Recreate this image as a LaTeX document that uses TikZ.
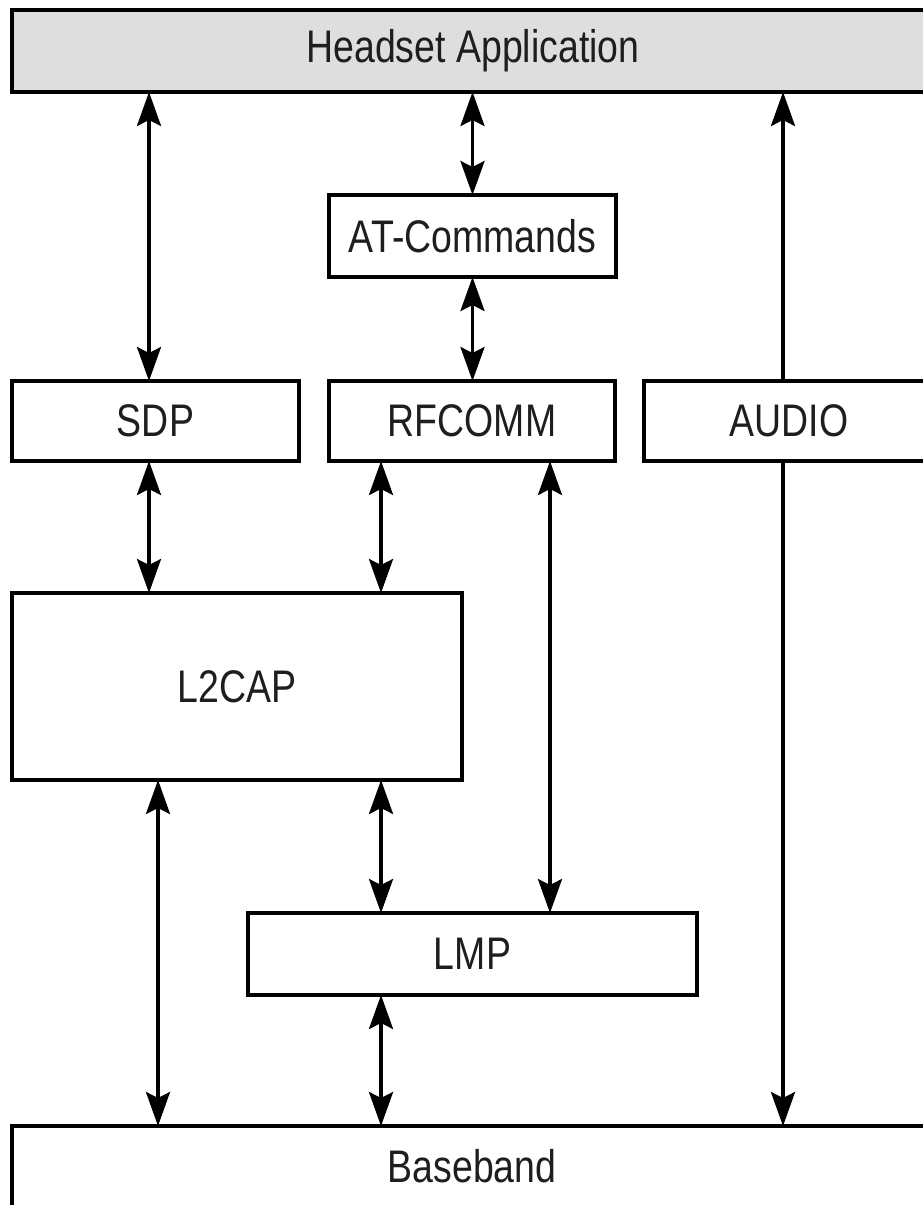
\documentclass[tikz,border=0pt]{standalone}
\usepackage{fontspec}
\setmainfont{Liberation Sans}[FakeStretch=0.82]
\usetikzlibrary{arrows.meta}
\definecolor{headgray}{RGB}{222,222,222}
\definecolor{txt}{RGB}{30,30,30}
\tikzset{
  layer/.style={draw=black, line width=2.6pt, fill=white, inner sep=0pt, outer sep=0pt,
    text=txt, font=\fontsize{26}{30}\selectfont, minimum height=1.6cm},
  conn/.style={line width=2pt, draw=black},
  >={Stealth[length=0.68cm,width=0.48cm,inset=0.12cm]}
}
\begin{document}
\begin{tikzpicture}[x=0.02cm,y=-0.02cm]
\useasboundingbox (0,0) rectangle (923,1205);
\fill[white] (0,0) rectangle (923,1205);
\clip (0,0) rectangle (923,1205);

% nodes
\node[layer, fill=headgray, minimum width=18.44cm, minimum height=1.64cm] (head) at (473,51) {Headset Application};
\node[layer, minimum width=5.74cm, minimum height=1.64cm] (at) at (472.5,236) {AT-Commands};
\node[layer, minimum width=5.74cm] (sdp) at (155.5,421) {SDP};
\node[layer, minimum width=5.72cm] (rf) at (472,421) {RFCOMM};
\node[layer, minimum width=5.8cm] (audio) at (789,421) {AUDIO};
\node[layer, minimum width=9.0cm, minimum height=3.74cm] (l2cap) at (237,686.5) {L2CAP};
\node[layer, minimum width=8.98cm, minimum height=1.64cm] (lmp) at (472.5,954) {LMP};
\node[layer, draw=none, fill=none, minimum width=18.4cm] (base) at (472,1166) {Baseband};
\draw[line width=2.6pt] ([yshift=-2cm]base.south west) -- (base.north west) -- ([xshift=2cm]base.north east);

% connectors
\draw[conn,<->] ([xshift=-0.13cm]sdp.north) -- ([xshift=-0.13cm]sdp.north |- head.south);
\draw[conn,<->] (at.north) -- (at.north |- head.south);
\draw[conn,<->] (at.south) -- (at.south |- rf.north);
\draw[conn,->] ([xshift=-0.12cm]audio.north) -- ([xshift=-0.12cm]audio.north |- head.south);
\draw[conn,->] ([xshift=-0.12cm]audio.south) -- ([xshift=-0.12cm]audio.south |- base.north);
\draw[conn,<->] ([xshift=-0.13cm]sdp.south) -- ([xshift=-0.13cm]sdp.south |- l2cap.north);
\draw[conn,<->] ([xshift=-1.82cm]rf.south) -- ([xshift=-1.82cm]rf.south |- l2cap.north);
\draw[conn,<->] ([xshift=1.56cm]rf.south) -- ([xshift=1.56cm]rf.south |- lmp.north);
\draw[conn,<->] ([xshift=-1.58cm]l2cap.south) -- ([xshift=-1.58cm]l2cap.south |- base.north);
\draw[conn,<->] ([xshift=-1.83cm]lmp.north) -- ([xshift=-1.83cm]lmp.north |- l2cap.south);
\draw[conn,<->] ([xshift=-1.83cm]lmp.south) -- ([xshift=-1.83cm]lmp.south |- base.north);
\end{tikzpicture}
\end{document}
